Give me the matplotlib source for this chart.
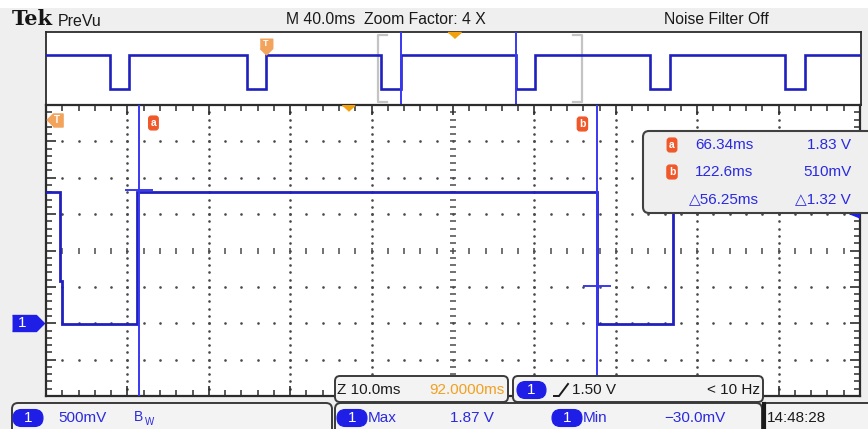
import matplotlib
matplotlib.use("Agg")
import matplotlib.pyplot as plt
import matplotlib.transforms as mtransforms
from matplotlib.patches import FancyBboxPatch, Rectangle

# ---------------- data ----------------
header_left = "PreVu"
header_mid = "M 40.0ms  Zoom Factor: 4 X"
header_right = "Noise Filter Off"

prevu_span_ms = [-108.0, 292.0]
prevu_fall_ms = [-76.8, -9.5, 56.6, 122.55, 188.5, 254.6]
prevu_rise_ms = [-67.2, 0.0, 66.1, 131.9, 198.2, 264.3]
prevu_high_v = 1.81
prevu_low_v = 0.0

zoom_span_ms = [54.86, 154.86]
volt_span_v = [-1.0, 3.0]
main_time_ms = [54.86, 56.6, 56.6, 56.8, 56.8, 66.1, 66.1, 122.55, 122.55, 131.9, 131.9, 154.86]
main_volts_v = [1.81, 1.81, 0.58, 0.58, -0.01, -0.01, 1.81, 1.81, -0.01, -0.01, 1.81, 1.81]

cursor_time_ms = [66.34, 122.6]
cursor_volt_v = [1.83, 0.51]
cursor_names = ["a", "b"]
meas_time_text = ["66.34ms", "122.6ms", "\u25b356.25ms"]
meas_volt_text = ["1.83 V", "510mV", "\u25b31.32 V"]

trigger_time_ms = 0.0
trigger_level_v = 1.50
expansion_ms = 92.0
ground_v = 0.0

zoom_scale_text = "Z 10.0ms"
zoom_pos_text = "92.0000ms"
trig_level_text = "1.50 V"
trig_freq_text = "< 10 Hz"
ch_scale_text = "500mV"
max_label, max_value = "Max", "1.87 V"
min_label, min_value = "Min", "\u221230.0mV"
clock_text = "14:48:28"

# ---------------- style ----------------
W, H = 868, 429
BG = "#efefef"
WAVE = "#2020bf"
CURS = "#3838f2"
FRAME = "#2c2c2c"
DOT = "#4a4a4a"
ORANGE_T = "#f2a35c"
ORANGE_TRI = "#f2a10c"
CUR_ICON = "#f0582a"
BLUE_TXT = "#2a2ae0"
PILL = "#1e1ee6"
FONT = ["Liberation Sans", "DejaVu Sans"]
plt.rcParams["font.family"] = FONT

fig = plt.figure(figsize=(W / 100, H / 100), dpi=100, facecolor=BG)


def fax(x0, y0, x1, y1, **kw):
    return fig.add_axes([x0 / W, 1 - y1 / H, (x1 - x0) / W, (y1 - y0) / H], **kw)


def offset(trans, dx, dy):
    # dx, dy in pixels (dy positive = up)
    return mtransforms.offset_copy(trans, fig=fig, x=dx, y=dy, units="dots")


# ---------------- PreVu strip ----------------
axp = fax(46, 32, 861, 105)
axp.set_facecolor("white")
axp.set_xlim(*prevu_span_ms)
axp.set_ylim(-0.85, 3.04)
axp.set_xticks([])
axp.set_yticks([])
for s in axp.spines.values():
    s.set_color(FRAME)
    s.set_linewidth(1.3)

pt = [prevu_span_ms[0]]
pv = [prevu_high_v]
for f, r in zip(prevu_fall_ms, prevu_rise_ms):
    pt += [f, f, r, r]
    pv += [prevu_high_v, prevu_low_v, prevu_low_v, prevu_high_v]
pt.append(prevu_span_ms[1])
pv.append(prevu_high_v)
axp.plot(pt, pv, color=WAVE, lw=1.9, solid_joinstyle="miter", zorder=3)

for t in cursor_time_ms:
    axp.axvline(t, color=CURS, lw=1.4, zorder=4)

# zoom window brackets
arm = 4.3
btop, bbot = 2.88, -0.70
z0, z1 = zoom_span_ms
axp.plot([z0 + arm, z0, z0, z0 + arm], [btop, btop, bbot, bbot], color="#c4c4c4", lw=1.6, zorder=2)
axp.plot([z1 - arm, z1, z1, z1 - arm], [btop, btop, bbot, bbot], color="#c4c4c4", lw=1.6, zorder=2)

blend_p = mtransforms.blended_transform_factory(axp.transData, axp.transAxes)
tri_down = [(-1, 0.45), (1, 0.45), (0, -0.45)]
axp.plot([expansion_ms], [1.0], marker=tri_down, ms=9.5, color=ORANGE_TRI, mec=ORANGE_TRI,
         transform=offset(blend_p, 0, -3), clip_on=False, zorder=6)
t_icon_down = [(-6, 7), (6, 7), (6, -2), (0, -8), (-6, -2)]
axp.plot([trigger_time_ms], [1.0], marker=t_icon_down, ms=12, color=ORANGE_T, mec=ORANGE_T,
         transform=offset(blend_p, 0, -14), clip_on=False, zorder=6)
axp.text(trigger_time_ms, 1.0, "T", color="white", fontsize=6.5, fontweight="bold",
         ha="center", va="center", transform=offset(blend_p, 0, -12), zorder=7)

# ---------------- main (zoomed) graticule ----------------
axm = fax(46, 105, 860, 396)
axm.set_facecolor("white")
axm.set_xlim(*zoom_span_ms)
axm.set_ylim(*volt_span_v)
t0, t1 = zoom_span_ms
v0, v1 = volt_span_v
dt = (t1 - t0) / 10
dv = (v1 - v0) / 8
axm.set_xticks([t0 + k * dt for k in range(11)])
axm.set_xticks([t0 + k * dt / 5 for k in range(51)], minor=True)
axm.set_yticks([v0 + k * dv for k in range(9)])
axm.set_yticks([v0 + k * dv / 5 for k in range(41)], minor=True)
axm.tick_params(which="major", direction="in", length=7, width=1.2, color=FRAME,
                top=True, right=True, labelbottom=False, labelleft=False)
axm.tick_params(which="minor", direction="in", length=4, width=1.1, color=FRAME,
                top=True, right=True)
for s in axm.spines.values():
    s.set_color(FRAME)
    s.set_linewidth(1.6)

for k in range(1, 10):
    x = t0 + k * dt
    ys = [v0 + j * dv / 5 for j in range(1, 40)]
    if k == 5:
        axm.plot([x] * len(ys), ys, ls="none", marker="_", ms=4, mew=1.1, color=DOT, zorder=1)
    else:
        axm.plot([x] * len(ys), ys, ls="none", marker="o", ms=1.9, mew=0, color=DOT, zorder=1)
for j in range(1, 8):
    y = v0 + j * dv
    xs = [t0 + i * dt / 5 for i in range(1, 50)]
    if j == 4:
        axm.plot(xs, [y] * len(xs), ls="none", marker="|", ms=4.5, mew=1.1, color=DOT, zorder=1)
    else:
        axm.plot(xs, [y] * len(xs), ls="none", marker="o", ms=1.9, mew=0, color=DOT, zorder=1)

axm.plot(main_time_ms, main_volts_v, color=WAVE, lw=2.0, solid_joinstyle="miter", zorder=3)

for t, v in zip(cursor_time_ms, cursor_volt_v):
    axm.axvline(t, color=CURS, lw=1.4, zorder=4)
    axm.plot([t - 1.6, t + 1.6], [v, v], color=CURS, lw=1.4, zorder=4)

blend_m = mtransforms.blended_transform_factory(axm.transData, axm.transAxes)
icon_offsets = [(14, -18), (-15, -19)]
for t, name, (dx, dy) in zip(cursor_time_ms, cursor_names, icon_offsets):
    axm.text(t, 1.0, name, color="white", fontsize=7.5, fontweight="bold", ha="center", va="center",
             transform=offset(blend_m, dx, dy), zorder=7,
             bbox=dict(boxstyle="round,pad=0.18,rounding_size=0.25", fc=CUR_ICON, ec=CUR_ICON))

axm.plot([expansion_ms], [1.0], marker=tri_down, ms=9, color=ORANGE_TRI, mec=ORANGE_TRI,
         transform=offset(blend_m, 0, -3), clip_on=False, zorder=6)

# trigger off-screen (left) icon
t_icon_left = [(-8, 0), (-2, 6), (7, 6), (7, -6), (-2, -6)]
axm.plot([0.0], [1.0], marker=t_icon_left, ms=12.5, color=ORANGE_T, mec=ORANGE_T,
         transform=offset(axm.transAxes, 9, -15), clip_on=False, zorder=6)
axm.text(0.0, 1.0, "T", color="white", fontsize=7, fontweight="bold", ha="center", va="center",
         transform=offset(axm.transAxes, 10.5, -15), zorder=7)

# trigger level marker on right edge
blend_r = mtransforms.blended_transform_factory(axm.transAxes, axm.transData)
axm.plot([1.0], [trigger_level_v], marker=[(-1, 0), (1, 0.8), (1, -0.8)], ms=7, color=PILL,
         transform=offset(blend_r, -6, 0), clip_on=False, zorder=5)

# ground marker "1"
blend_l = mtransforms.blended_transform_factory(axm.transAxes, axm.transData)
pent = [(-16, -8), (8, -8), (16, 0), (8, 8), (-16, 8)]
axm.plot([0.0], [ground_v], marker=pent, ms=23, color=PILL, mec=PILL,
         transform=offset(blend_l, -18, 0), clip_on=False, zorder=6)
axm.text(0.0, ground_v, "1", color="white", fontsize=11, ha="center", va="center",
         transform=offset(blend_l, -24, 0), clip_on=False, zorder=7)

# ---------------- overlay (screen chrome) ----------------
ov = fax(0, 0, W, H, zorder=10)
ov.set_xlim(0, W)
ov.set_ylim(H, 0)
ov.axis("off")
ov.patch.set_alpha(0)

ov.add_patch(Rectangle((0, 0), W, 8, fc="white", ec="none", zorder=0))


def rbox(x0, y0, x1, y1, r=5, fc="#f3f3f3", ec="#3a3a3a", lw=1.4, z=2):
    ov.add_patch(FancyBboxPatch((x0, y0), x1 - x0, y1 - y0,
                                boxstyle=f"round,pad=0,rounding_size={r}",
                                fc=fc, ec=ec, lw=lw, zorder=z, clip_on=False))


def pill(x0, x1, yc, h=17, z=4):
    rbox(x0, yc - h / 2, x1, yc + h / 2, r=h / 2, fc=PILL, ec=PILL, lw=0.8, z=z)
    ov.text((x0 + x1) / 2, yc + 0.5, "1", color="white", fontsize=11, ha="center", va="center", zorder=z + 1)


def txt(x, y, s, color="#1a1a1a", size=11, ha="left", **kw):
    ov.text(x, y, s, color=color, fontsize=size, ha=ha, va="center", zorder=6, **kw)


# header
ov.text(12, 19, "Tek", family="DejaVu Serif", fontweight="bold", fontsize=15, color="#151515",
        ha="left", va="center", zorder=6)
txt(58, 21, header_left, size=11.5)
txt(286, 20, header_mid, size=11.3)
txt(664, 20, header_right, size=11.3)

# measurement readout box
rbox(643, 131, 880, 213, r=6, fc="#efefef", ec="#404040", lw=1.5, z=3)
rows_y = [145, 172, 199]
for i, y in enumerate(rows_y):
    if i < 2:
        ov.text(672, y, cursor_names[i], color="white", fontsize=7.5, fontweight="bold",
                ha="center", va="center", zorder=7,
                bbox=dict(boxstyle="round,pad=0.18,rounding_size=0.25", fc=CUR_ICON, ec=CUR_ICON))
        txt(695, y, meas_time_text[i], color=BLUE_TXT)
    else:
        txt(689, y, meas_time_text[i], color=BLUE_TXT)
    txt(852 if i == 1 else 851, y, meas_volt_text[i], color=BLUE_TXT, ha="right")

# zoom / trigger boxes over graticule bottom
rbox(335, 376, 508, 402, r=5)
txt(337, 390, zoom_scale_text)
txt(505, 390, zoom_pos_text, color="#f2a01e", ha="right")

rbox(513, 376, 763, 402, r=5)
pill(517, 546, 390)
ov.plot([554, 559, 568], [396, 396, 384], color="#1a1a1a", lw=1.4, zorder=6, solid_joinstyle="miter")
txt(572, 390, trig_level_text)
txt(760, 390, trig_freq_text, ha="right")

# status bar
rbox(12, 403, 332, 440, r=6)
pill(13, 43, 418)
txt(58, 418, ch_scale_text, color=BLUE_TXT)
txt(134, 417, "B", color=BLUE_TXT, size=10)
txt(145, 422, "W", color=BLUE_TXT, size=7)

rbox(335, 403, 762, 440, r=6)
pill(337, 367, 418)
txt(368, 418, max_label, color=BLUE_TXT)
txt(450, 418, max_value, color=BLUE_TXT)
pill(552, 582, 418)
txt(583, 418, min_label, color=BLUE_TXT)
txt(664, 418, min_value, color=BLUE_TXT)

rbox(764, 403, 890, 440, r=3, fc="#f3f3f3", ec="#3a3a3a", lw=1.4)
ov.plot([764, 764], [404, 429], color="#1a1a1a", lw=3, zorder=6)
txt(767, 418, clock_text)

fig.savefig("out.png", dpi=100, facecolor=BG)
